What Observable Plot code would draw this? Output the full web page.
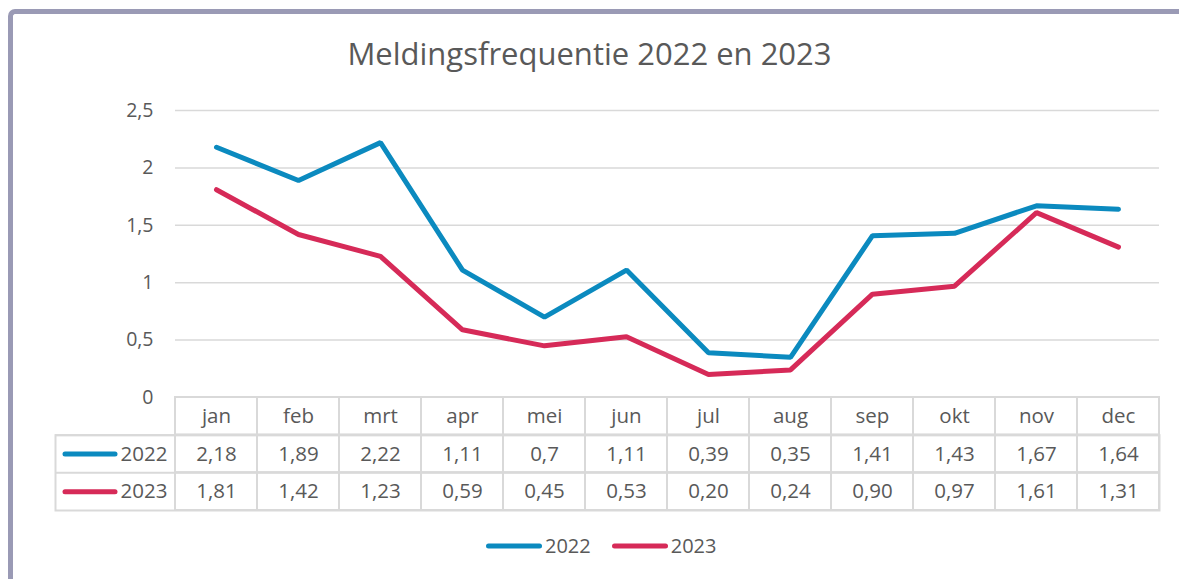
<!DOCTYPE html>
<html><head><meta charset="utf-8">
<script src="https://cdn.jsdelivr.net/npm/d3@7"></script>
<script src="https://cdn.jsdelivr.net/npm/@observablehq/plot@0.6"></script>
<style>
body{margin:0;background:#fff;font-family:"Open Sans",sans-serif;color:#595959}
#wrap{position:relative;width:1179px;height:579px;overflow:hidden;background:#fff}
#border{position:absolute;left:8px;top:9px;width:1300px;height:700px;border-left:5px solid #9a9ab5;border-top:5px solid #9a9ab5;border-top-left-radius:7px;box-sizing:border-box}
#title{position:absolute;left:0;top:38px;width:1179px;text-align:center;font-size:31px;line-height:31px;color:#595959}
#chart{position:absolute;left:0;top:0}
#table{position:absolute;left:0;top:380px}
#legend{position:absolute;left:486px;top:533px;display:flex;align-items:center;font-size:20px;line-height:26px;color:#595959}
#legend .item{display:flex;align-items:center}
#legend svg{display:block}
</style></head><body>
<div id="wrap">
  <div id="border"></div>
  <div id="title"></div>
  <div id="chart"></div>
  <div id="table"></div>
  <div id="legend"></div>
</div>
<script>
const titleText = "Meldingsfrequentie 2022 en 2023";
const months = ["jan","feb","mrt","apr","mei","jun","jul","aug","sep","okt","nov","dec"];
const seriesNames = ["2022","2023"];
const colors = ["#0b8abf","#d62a58"];
const values2022 = [2.18,1.89,2.22,1.11,0.7,1.11,0.39,0.35,1.41,1.43,1.67,1.64];
const values2023 = [1.81,1.42,1.23,0.59,0.45,0.53,0.20,0.24,0.90,0.97,1.61,1.31];
const labels2022 = ["2,18","1,89","2,22","1,11","0,7","1,11","0,39","0,35","1,41","1,43","1,67","1,64"];
const labels2023 = ["1,81","1,42","1,23","0,59","0,45","0,53","0,20","0,24","0,90","0,97","1,61","1,31"];
const yTicks = [0,0.5,1,1.5,2,2.5];
const gridTicks = [0.5,1,1.5,2,2.5];

const grid = "#d9d9d9";
const text = "#595959";
const font = "Open Sans";

document.getElementById("title").textContent = titleText;

const data2022 = months.map((m,i)=>({month:m, value:values2022[i]}));
const data2023 = months.map((m,i)=>({month:m, value:values2023[i]}));

const main = Plot.plot({
  width:1179, height:420,
  marginTop:110, marginBottom:23, marginLeft:175, marginRight:20,
  x:{type:"band", domain:months, padding:0, axis:null},
  y:{domain:[0,2.5], axis:null},
  style:{background:"transparent", overflow:"visible", color:text, fontFamily:font},
  marks:[
    Plot.gridY(gridTicks,{stroke:grid, strokeOpacity:1, strokeWidth:1.5}),
    Plot.axisY(yTicks,{tickSize:0, tickPadding:22, tickFormat:d=>String(d).replace(".",","), fontSize:19.5, label:null, fill:text}),
    Plot.line(data2022,{x:"month", y:"value", stroke:colors[0], strokeWidth:5, strokeLinecap:"round", strokeLinejoin:"miter"}),
    Plot.line(data2023,{x:"month", y:"value", stroke:colors[1], strokeWidth:5, strokeLinecap:"round", strokeLinejoin:"miter"})
  ]
});
document.getElementById("chart").appendChild(main);

const cells = [];
months.forEach((m,i)=>{
  cells.push({month:m, row:0, label:m});
  cells.push({month:m, row:1, label:labels2022[i]});
  cells.push({month:m, row:2, label:labels2023[i]});
});
const series = seriesNames.map((n,i)=>({name:n, row:i+1, color:colors[i]}));
const lineSymbol = {draw(ctx){ ctx.moveTo(-25,0); ctx.lineTo(25,0); }};

const table = Plot.plot({
  width:1179, height:140,
  marginLeft:55, marginRight:20, marginTop:54.67, marginBottom:10,
  x:{type:"band", domain:months, range:[175,1159], padding:0, axis:null},
  y:{type:"linear", domain:[0,3], range:[17,130], axis:null},
  color:{type:"identity"},
  style:{background:"transparent", overflow:"visible", color:text, fontFamily:font},
  marks:[
    Plot.barY(cells,{x:"month", y1:"row", y2:d=>d.row+1, fill:"white", stroke:grid, strokeWidth:2}),
    Plot.frame({stroke:grid, strokeWidth:2}),
    Plot.ruleY(series,{y:"row", stroke:grid, strokeWidth:2}),
    Plot.text(cells,{x:"month", y:d=>d.row+0.5, text:"label", fontSize:20.5, fill:text}),
    Plot.text(series,{y:d=>d.row+0.5, text:"name", frameAnchor:"left", dx:112, textAnchor:"end", fontSize:20.5, fill:text}),
    Plot.dot(series,{y:d=>d.row+0.5, frameAnchor:"left", dx:34.5, symbol:lineSymbol, fill:"none", stroke:"color", strokeWidth:5, strokeLinecap:"round"})
  ]
});
document.getElementById("table").appendChild(table);

const legend = document.getElementById("legend");
series.forEach((s,i)=>{
  const item = document.createElement("div");
  item.className = "item";
  if (i>0) item.style.marginLeft = "21px";
  item.innerHTML = `<svg width="56" height="10"><line x1="2.5" y1="5" x2="53.5" y2="5" stroke="${s.color}" stroke-width="5" stroke-linecap="round"/></svg><span style="margin-left:3px">${s.name}</span>`;
  legend.appendChild(item);
});
</script>
</body></html>
